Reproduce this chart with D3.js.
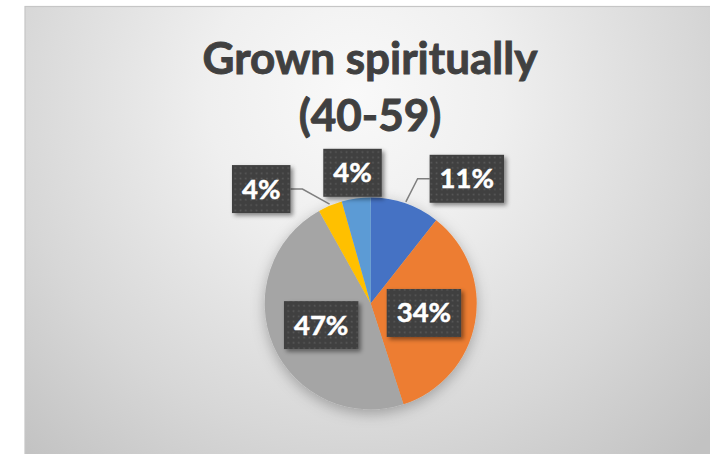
<!DOCTYPE html>
<html><head><meta charset="utf-8">
<script src="https://cdn.jsdelivr.net/npm/d3@7"></script>
<style>html,body{margin:0;padding:0;background:#fff;}svg{display:block}</style>
</head><body>
<svg id="c" width="710" height="454"></svg>
<script>
// ---- data ----
const titleLines = ["Grown spiritually", "(40-59)"];
const categories = ["Option 1", "Option 2", "Option 3", "Option 4", "Option 5"];
const values = [10.6, 34.4, 46.9, 3.7, 4.4];
const colors = ["#4472C4", "#ED7D31", "#A5A5A5", "#FFC000", "#5B9BD5"];

// ---- layout ----
const W = 710, H = 454;
const cx = 370.7, cy = 303.5, R = 106;
const svg = d3.select("#c");
const defs = svg.append("defs");

const bg = defs.append("radialGradient").attr("id", "bg")
  .attr("gradientUnits", "userSpaceOnUse")
  .attr("cx", 355).attr("cy", 95).attr("r", 490);
[[0, "#f9f9f9"], [0.3, "#efefef"], [0.7, "#d7d7d7"], [1, "#c2c2c2"]]
  .forEach(([o, c]) => bg.append("stop").attr("offset", o).attr("stop-color", c));

const pat = defs.append("pattern").attr("id", "dots")
  .attr("patternUnits", "userSpaceOnUse").attr("width", 5.3).attr("height", 5.3);
pat.append("rect").attr("width", 5.3).attr("height", 5.3).attr("fill", "#404040");
pat.append("rect").attr("x", 1.5).attr("y", 1.5).attr("width", 1.6).attr("height", 1.6).attr("fill", "#5a5a5a");

const sh = defs.append("filter").attr("id", "pieShadow")
  .attr("x", "-30%").attr("y", "-30%").attr("width", "160%").attr("height", "160%");
sh.append("feDropShadow").attr("dx", 0).attr("dy", 4).attr("stdDeviation", 7)
  .attr("flood-color", "#000").attr("flood-opacity", 0.28);

const bs = defs.append("filter").attr("id", "boxShadow")
  .attr("x", "-30%").attr("y", "-30%").attr("width", "160%").attr("height", "160%");
bs.append("feDropShadow").attr("dx", 2.5).attr("dy", 2.5).attr("stdDeviation", 2.2)
  .attr("flood-color", "#000").attr("flood-opacity", 0.45);

// chart area
svg.append("rect").attr("x", 25).attr("y", 6.5).attr("width", W).attr("height", H)
  .attr("fill", "url(#bg)").attr("stroke", "#c6c6c6").attr("stroke-width", 1.2);

// title
const title = svg.append("text").attr("text-anchor", "middle")
  .attr("font-family", "Lato, 'Open Sans', sans-serif").attr("font-weight", 700)
  .attr("font-size", 44).attr("fill", "#404040")
  .attr("stroke", "#404040").attr("stroke-width", 0.9);
titleLines.forEach((t, i) => title.append("tspan").attr("x", 370).attr("y", 74 + i * 57).text(t));

// pie
const total = d3.sum(values);
const pie = d3.pie().sort(null).value(d => d);
const arcs = pie(values);
const arc = d3.arc().innerRadius(0).outerRadius(R);
const g = svg.append("g").attr("transform", `translate(${cx},${cy})`);
g.append("g").attr("filter", "url(#pieShadow)")
  .selectAll("path").data(arcs).join("path")
  .attr("d", arc).attr("fill", (d, i) => colors[i]);

// labels
const insideArc = d3.arc().innerRadius(R * 0.51).outerRadius(R * 0.51);
const outsideArc = d3.arc().innerRadius(R * 1.245).outerRadius(R * 1.245);
const edgeArc = d3.arc().innerRadius(R + 1.5).outerRadius(R + 1.5);
// collision nudges for crowded outside labels (Excel best-fit)
const nudge = { 0: [53, 0], 3: [-59, 7.5] };

const lblG = g.append("g");
arcs.forEach((a, i) => {
  const frac = a.value / total;
  const txt = Math.round(frac * 100) + "%";
  const inside = frac > 0.2;
  let [x, y] = inside ? insideArc.centroid(a) : outsideArc.centroid(a);
  const nd = nudge[i];
  if (!inside && nd) { x += nd[0]; y += nd[1]; }
  const bh = 48;
  const t = lblG.append("text").attr("x", x).attr("y", y + 9.5)
    .attr("text-anchor", "middle")
    .attr("font-family", "Lato, 'Open Sans', sans-serif").attr("font-weight", 700)
    .attr("font-size", 27.5).attr("fill", "#ffffff")
    .attr("stroke", "#ffffff").attr("stroke-width", 0.5).text(txt);
  const tw = t.node().getComputedTextLength();
  const bw = tw + 20;
  lblG.insert("rect", "text").attr("x", x - bw / 2).attr("y", y - bh / 2)
    .attr("width", bw).attr("height", bh).attr("fill", "url(#dots)")
    .attr("filter", "url(#boxShadow)");
  if (!inside && nd) {
    const [ex, ey] = edgeArc.centroid(a);
    const side = x > ex ? -1 : 1;
    const bx = x + side * bw / 2;
    const elx = bx + side * 12;
    g.insert("path", "g:last-child")
      .attr("d", `M${ex},${ey}L${elx},${y}L${bx},${y}`)
      .attr("fill", "none").attr("stroke", "#7f7f7f").attr("stroke-width", 1.5);
  }
});
</script>
</body></html>
